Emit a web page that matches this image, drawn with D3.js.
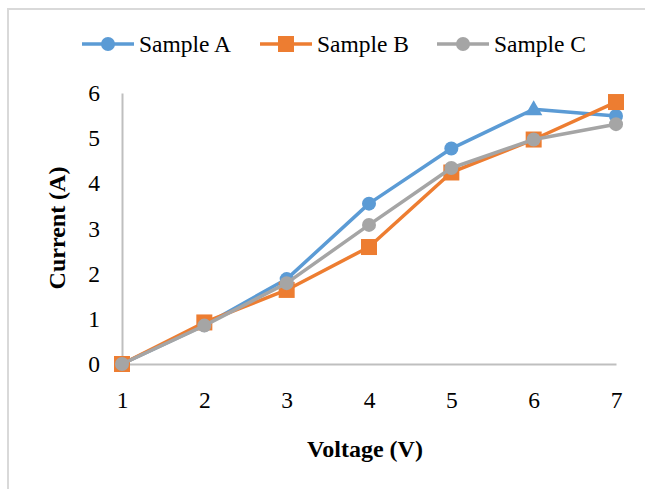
<!DOCTYPE html>
<html>
<head>
<meta charset="utf-8">
<script src="https://cdn.jsdelivr.net/npm/d3@7"></script>
<style>
  body { margin: 0; background: #fff; }
  text { font-family: "Liberation Serif", "Times New Roman", serif; fill: #000; }
</style>
</head>
<body>
<div id="chart"></div>
<script>
var voltage = [1, 2, 3, 4, 5, 6, 7];
var sampleA = [0, 0.86, 1.88, 3.55, 4.77, 5.64, 5.49];
var sampleB = [0, 0.92, 1.64, 2.59, 4.24, 4.97, 5.80];
var sampleC = [0, 0.85, 1.79, 3.08, 4.34, 4.97, 5.31];
var markersA = ["circle", "circle", "circle", "circle", "circle", "triangle", "circle"];
var yTicks = [0, 1, 2, 3, 4, 5, 6];
var seriesNames = ["Sample A", "Sample B", "Sample C"];
var seriesColors = ["#5b9bd5", "#ed7d31", "#a5a5a5"];

var W = 645, H = 489;
var svg = d3.select("#chart").append("svg")
    .attr("width", W).attr("height", H);

// outer frame (top + left edges visible)
svg.append("path")
    .attr("d", "M8,489 L8,9 L645,9")
    .attr("fill", "none").attr("stroke", "#d9d9d9").attr("stroke-width", 2);

var x = d3.scaleLinear().domain([1, 7]).range([122, 616]);
var y = d3.scaleLinear().domain([0, 6]).range([364, 93]);

// axes
svg.append("g")
    .attr("transform", "translate(0,364)")
    .call(d3.axisBottom(x).tickValues(voltage).tickSize(0).tickPadding(27).tickFormat(d3.format("d")))
    .call(function(g){
      g.select(".domain").attr("stroke", "#bfbfbf").attr("stroke-width", 2);
      g.selectAll("text").style("font-size", "23.5px").style("font-family", "Liberation Serif");
    });

svg.append("g")
    .attr("transform", "translate(122,0)")
    .call(d3.axisLeft(y).tickValues(yTicks).tickSize(0).tickPadding(22).tickFormat(d3.format("d")))
    .call(function(g){
      g.select(".domain").attr("stroke", "#bfbfbf").attr("stroke-width", 2);
      g.selectAll("text").style("font-size", "23.5px").style("font-family", "Liberation Serif");
    });

svg.append("text")
    .attr("x", 365).attr("y", 457)
    .attr("text-anchor", "middle")
    .style("font-size", "24px").style("font-weight", "bold")
    .text("Voltage (V)");

svg.append("text")
    .attr("transform", "translate(65,228) rotate(-90)")
    .attr("text-anchor", "middle")
    .style("font-size", "24px").style("font-weight", "bold")
    .text("Current (A)");

function drawMarker(g, shape, cx, cy, color) {
  if (shape === "square") {
    g.append("rect").attr("x", cx - 8).attr("y", cy - 8)
      .attr("width", 16).attr("height", 16).attr("fill", color);
  } else if (shape === "triangle") {
    g.append("path")
      .attr("d", d3.symbol().type(d3.symbolTriangle).size(130)())
      .attr("transform", "translate(" + cx + "," + (cy + 1) + ")")
      .attr("fill", color);
  } else {
    g.append("circle").attr("cx", cx).attr("cy", cy).attr("r", 7).attr("fill", color);
  }
}

var line = d3.line()
    .x(function(d, i){ return x(voltage[i]); })
    .y(function(d){ return y(d); });

var allSeries = [sampleA, sampleB, sampleC];
var shapes = [markersA, voltage.map(function(){ return "square"; }), voltage.map(function(){ return "circle"; })];

allSeries.forEach(function(vals, s){
  var g = svg.append("g");
  g.append("path")
    .attr("d", line(vals))
    .attr("fill", "none")
    .attr("stroke", seriesColors[s])
    .attr("stroke-width", 3.5)
    .attr("stroke-linejoin", "round");
  vals.forEach(function(v, i){
    drawMarker(g, shapes[s][i], x(voltage[i]), y(v), seriesColors[s]);
  });
});

// legend
var legendX = [82, 260, 437];
var legendShapes = ["circle", "square", "circle"];
seriesNames.forEach(function(name, s){
  var g = svg.append("g");
  g.append("line")
    .attr("x1", legendX[s]).attr("x2", legendX[s] + 52)
    .attr("y1", 44).attr("y2", 44)
    .attr("stroke", seriesColors[s]).attr("stroke-width", 3.5);
  drawMarker(g, legendShapes[s], legendX[s] + 26, 44, seriesColors[s]);
  g.append("text")
    .attr("x", legendX[s] + 57).attr("y", 52)
    .style("font-size", "23.5px")
    .text(name);
});
</script>
</body>
</html>
